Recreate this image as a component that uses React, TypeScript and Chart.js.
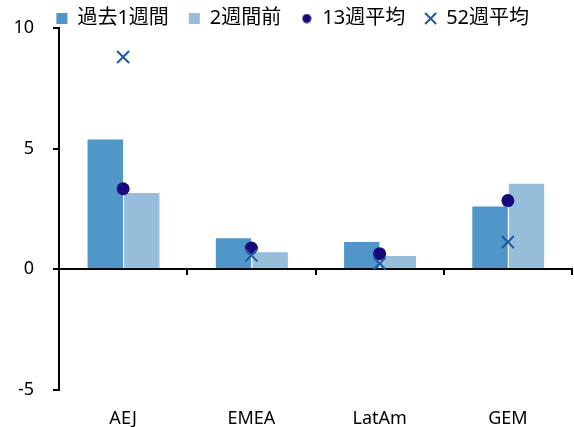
import React, { useEffect, useRef } from 'react';
import { Chart, registerables } from 'chart.js';

Chart.register(...registerables);

const categories = ['AEJ', 'EMEA', 'LatAm', 'GEM'];
const seriesNames = ['過去1週間', '2週間前', '13週平均', '52週平均'];
const pastWeek = [5.42, 1.33, 1.17, 2.64];
const twoWeeksAgo = [3.2, 0.75, 0.59, 3.59];
const avg13 = [3.34, 0.88, 0.65, 2.85];
const avg52 = [8.8, 0.58, 0.24, 1.13];
const yTicks = [-5, 0, 5, 10];

const DARK = '#5096C8';
const LIGHT = '#96BEDB';
const NAVY = '#170A7C';
const CROSS = '#1E5AA6';
const EDGE = 'rgba(255,255,255,0.35)';
const FONT = "'Noto Sans', 'Noto Sans CJK JP', sans-serif";

const legendShift = {
  id: 'legendShift',
  beforeInit(chart: any) {
    const legend = chart.legend;
    if (!legend) return;
    const origFit = legend.fit;
    legend.fit = function () {
      origFit.call(this);
      this.height -= 10.5;
    };
  },
};

export default function App() {
  const ref = useRef<HTMLCanvasElement | null>(null);

  useEffect(() => {
    if (!ref.current) return;
    const dot = document.createElement('canvas');
    dot.width = 10;
    dot.height = 10;
    const dctx = dot.getContext('2d');
    if (dctx) {
      dctx.fillStyle = NAVY;
      dctx.beginPath();
      dctx.arc(5, 5, 4.5, 0, Math.PI * 2);
      dctx.fill();
    }

    const barBorder = { top: 1, left: 1, right: 0, bottom: 0 };

    const chart = new Chart(ref.current, {
      type: 'bar',
      data: {
        labels: categories,
        datasets: [
          { type: 'bar', label: seriesNames[0], data: pastWeek, backgroundColor: DARK, borderColor: EDGE, borderWidth: barBorder, borderSkipped: false, categoryPercentage: 0.57, barPercentage: 1, xAxisID: 'x', yAxisID: 'y', order: 2 },
          { type: 'bar', label: seriesNames[1], data: twoWeeksAgo, backgroundColor: LIGHT, borderColor: EDGE, borderWidth: barBorder, borderSkipped: false, categoryPercentage: 0.57, barPercentage: 1, xAxisID: 'x', yAxisID: 'y', order: 3 },
          { type: 'line', label: seriesNames[2], data: avg13, showLine: false, pointStyle: 'circle', pointRadius: 6.5, pointBackgroundColor: NAVY, pointBorderColor: NAVY, pointBorderWidth: 0, xAxisID: 'x', yAxisID: 'y', order: 1 },
          { type: 'line', label: seriesNames[3], data: avg52, showLine: false, pointStyle: 'crossRot', pointRadius: 8.5, pointBackgroundColor: CROSS, pointBorderColor: CROSS, pointBorderWidth: 2, xAxisID: 'x', yAxisID: 'y', order: 0 },
        ],
      } as any,
      options: {
        responsive: false,
        animation: false,
        layout: { autoPadding: false, padding: { left: 13.4, right: 2, top: -11.5, bottom: 0 } },
        plugins: {
          tooltip: { enabled: false },
          legend: {
            display: true,
            position: 'top',
            labels: {
              usePointStyle: true,
              boxWidth: 11,
              boxHeight: 11,
              padding: 20,
              color: '#000',
              font: { size: 20, family: FONT },
              generateLabels: () => [
                { text: seriesNames[0], fillStyle: DARK, strokeStyle: DARK, lineWidth: 0, pointStyle: 'rect', datasetIndex: 0, hidden: false },
                { text: seriesNames[1], fillStyle: LIGHT, strokeStyle: LIGHT, lineWidth: 0, pointStyle: 'rect', datasetIndex: 1, hidden: false },
                { text: seriesNames[2], fillStyle: NAVY, strokeStyle: NAVY, lineWidth: 0, pointStyle: dot, datasetIndex: 2, hidden: false },
                { text: seriesNames[3], fillStyle: 'rgba(0,0,0,0)', strokeStyle: CROSS, lineWidth: 2, pointStyle: 'crossRot', datasetIndex: 3, hidden: false },
              ] as any,
            },
          },
        },
        scales: {
          x: {
            type: 'category',
            offset: true,
            grid: { display: false, tickLength: 8 },
            border: { display: false },
            ticks: { color: '#000', font: { size: 18, family: FONT }, padding: 10, maxRotation: 0 },
            afterFit: (scale: any) => {
              scale.height = 37;
            },
          },
          x2: {
            type: 'category',
            axis: 'x',
            labels: categories,
            offset: true,
            position: { y: 0 },
            z: 1,
            grid: { display: true, drawOnChartArea: false, drawTicks: true, tickLength: 5, color: '#000', lineWidth: 2, offset: true },
            border: { display: true, color: '#000', width: 2 },
            ticks: { display: false },
          },
          y: {
            type: 'linear',
            min: -5,
            max: 10,
            z: 1,
            afterBuildTicks: (scale: any) => {
              scale.ticks = yTicks.map((v) => ({ value: v }));
            },
            afterFit: (scale: any) => {
              scale.width = 45.6;
              scale.paddingTop = 11;
              scale.paddingBottom = 11;
            },
            grid: { display: true, drawOnChartArea: false, drawTicks: true, tickLength: 6, color: '#000', lineWidth: 2 },
            border: { display: true, color: '#000', width: 2 },
            ticks: { color: '#000', font: { size: 18, family: FONT }, padding: 19 },
          },
        } as any,
      },
      plugins: [legendShift],
    });
    return () => chart.destroy();
  }, []);

  return (
    <div style={{ position: 'absolute', left: 0, top: 0, width: 574, height: 427, background: '#fff' }}>
      <canvas ref={ref} width={574} height={427} style={{ display: 'block' }} />
    </div>
  );
}
